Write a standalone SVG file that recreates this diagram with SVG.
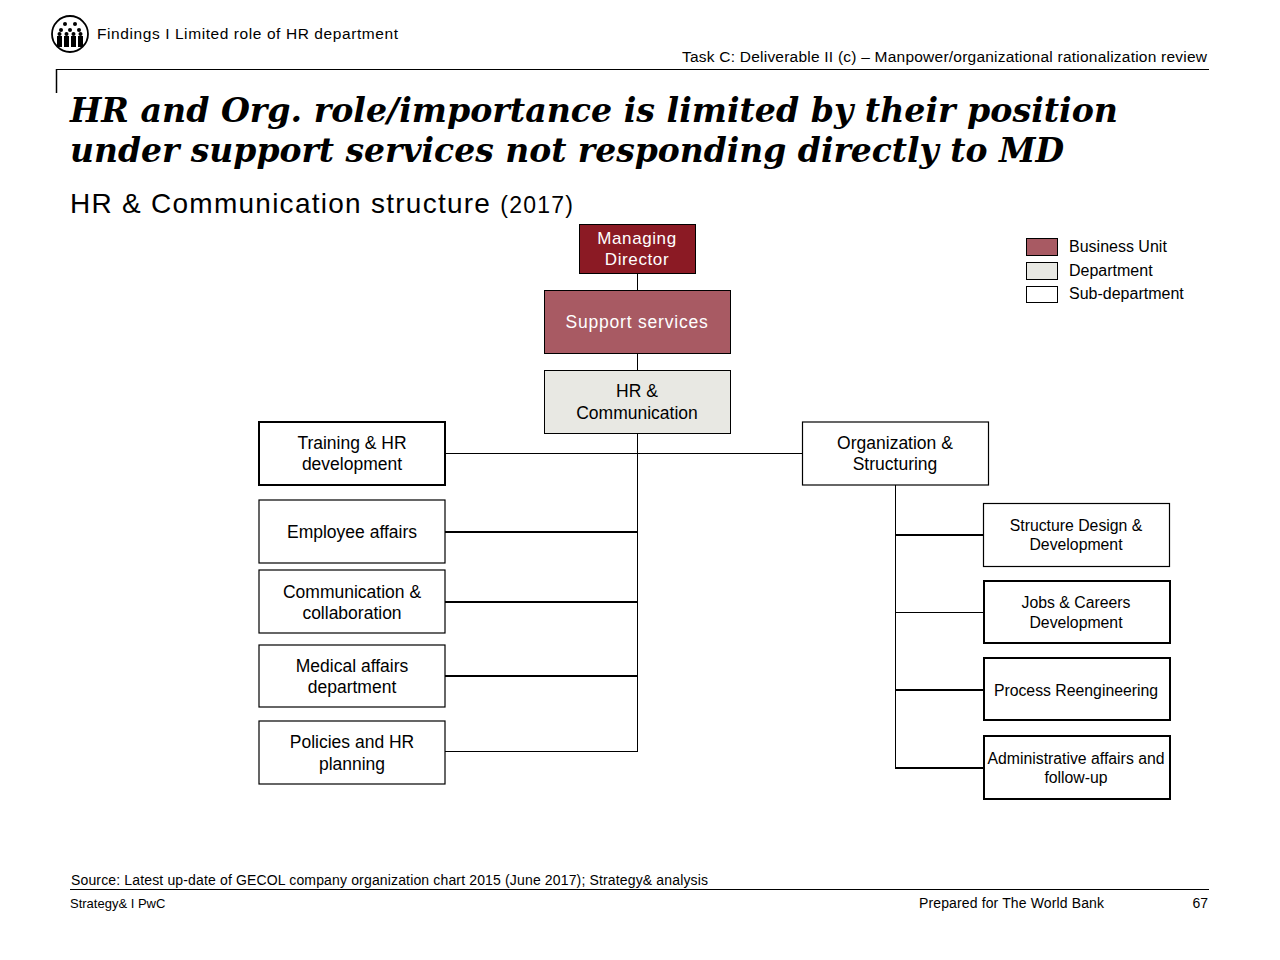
<svg xmlns="http://www.w3.org/2000/svg" width="1280" height="960" viewBox="0 0 1280 960">
<style>
text{font-family:"Liberation Sans",Arial,sans-serif;fill:#000}
.c{text-anchor:middle}
.w{fill:#fff}
.box{fill:#fff;stroke:#000;stroke-width:1.2}
.boxb{fill:#fff;stroke:#000;stroke-width:2}
.ln{stroke:#000;stroke-width:1;fill:none}
.lnb{stroke:#000;stroke-width:2;fill:none}
.n17{font-size:17.5px}
.n15{font-size:15.8px}
.n14{font-size:14px}
.n13{font-size:14px}
</style>
<rect width="1280" height="960" fill="#fff"/>
<g id="header">
<circle cx="70" cy="34" r="18" fill="#fff" stroke="#000" stroke-width="1.8"/>
<g fill="#000">
<circle cx="65" cy="24" r="2"/><circle cx="75" cy="24" r="2"/>
<circle cx="61" cy="30" r="2"/><circle cx="70" cy="30" r="2"/><circle cx="79" cy="30" r="2"/>
<rect x="57" y="36" width="5" height="11"/><rect x="64" y="36" width="5" height="11"/><rect x="71" y="36" width="5" height="11"/><rect x="78" y="36" width="5" height="11"/>
<circle cx="59.5" cy="34" r="2"/><circle cx="66.5" cy="34" r="2"/><circle cx="73.5" cy="34" r="2"/><circle cx="80.5" cy="34" r="2"/>
</g>
<text x="97" y="39" font-size="15.5" textLength="301" lengthAdjust="spacing">Findings I Limited role of HR department</text>
<text x="682" y="62" font-size="15.5" textLength="525" lengthAdjust="spacing">Task C: Deliverable II (c) – Manpower/organizational rationalization review</text>
<line x1="56" y1="69.5" x2="1209" y2="69.5" stroke="#000" stroke-width="1"/>
<line x1="56.5" y1="69" x2="56.5" y2="93" stroke="#000" stroke-width="1.5"/>
<text x="70" y="122" style="font-family:'DejaVu Serif','Liberation Serif',serif" font-size="34" font-weight="bold" font-style="italic" textLength="1048" lengthAdjust="spacingAndGlyphs">HR and Org. role/importance is limited by their position</text>
<text x="70" y="162" style="font-family:'DejaVu Serif','Liberation Serif',serif" font-size="34" font-weight="bold" font-style="italic" textLength="994" lengthAdjust="spacingAndGlyphs">under support services not responding directly to MD</text>
<text x="70" y="213" font-size="28" textLength="503" lengthAdjust="spacing">HR &amp; Communication structure <tspan font-size="23">(2017)</tspan></text>
</g>
<g id="legend">
<rect x="1026.5" y="238.5" width="31" height="17" fill="#A85A63" stroke="#000" stroke-width="1"/>
<rect x="1026.5" y="262.5" width="31" height="17" fill="#E8E8E3" stroke="#000" stroke-width="1"/>
<rect x="1026.5" y="286.5" width="31" height="16" fill="#fff" stroke="#000" stroke-width="1"/>
<text x="1069" y="252" font-size="16">Business Unit</text>
<text x="1069" y="276" font-size="16">Department</text>
<text x="1069" y="299" font-size="16">Sub-department</text>
</g>
<g id="connectors">
<line class="ln" x1="637.5" y1="273" x2="637.5" y2="290"/>
<line class="ln" x1="637.5" y1="353" x2="637.5" y2="370"/>
<line class="ln" x1="637.5" y1="433" x2="637.5" y2="752"/>
<line class="ln" x1="445" y1="453.5" x2="802" y2="453.5"/>
<line class="lnb" x1="445" y1="532" x2="637.5" y2="532"/>
<line class="lnb" x1="445" y1="602" x2="637.5" y2="602"/>
<line class="lnb" x1="445" y1="676" x2="637.5" y2="676"/>
<line class="ln" x1="445" y1="751.5" x2="638" y2="751.5"/>
<line class="ln" x1="895.5" y1="485" x2="895.5" y2="768"/>
<line class="lnb" x1="895" y1="535" x2="983" y2="535"/>
<line class="ln" x1="895" y1="612.5" x2="983" y2="612.5"/>
<line class="lnb" x1="895" y1="690" x2="983" y2="690"/>
<line class="lnb" x1="895" y1="768" x2="983" y2="768"/>
</g>
<g id="md">
<rect x="579.5" y="224.5" width="116" height="49" fill="#8B1A24" stroke="#000" stroke-width="1"/>
<text x="637" y="244" class="c w" font-size="17" style="letter-spacing:0.6px">Managing</text>
<text x="637" y="265" class="c w" font-size="17" style="letter-spacing:0.6px">Director</text>
</g>
<g id="support">
<rect x="544.5" y="290.5" width="186" height="63" fill="#A85A63" stroke="#000" stroke-width="1"/>
<text x="637" y="328" class="c w" font-size="17.5" style="letter-spacing:0.8px">Support services</text>
</g>
<g id="hrcomm">
<rect x="544.5" y="370.5" width="186" height="63" fill="#E8E8E3" stroke="#000" stroke-width="1"/>
<text x="637" y="397" class="c n17">HR &amp;</text>
<text x="637" y="419" class="c n17">Communication</text>
</g>
<g id="training">
<rect class="boxb" x="259" y="422" width="186" height="63"/>
<text x="352" y="449" class="c n17">Training &amp; HR</text>
<text x="352" y="470" class="c n17">development</text>
</g>
<g id="employee">
<rect class="box" x="259" y="500" width="186" height="63"/>
<text x="352" y="538" class="c n17">Employee affairs</text>
</g>
<g id="communication">
<rect class="box" x="259" y="570" width="186" height="63"/>
<text x="352" y="598" class="c n17">Communication &amp;</text>
<text x="352" y="619" class="c n17">collaboration</text>
</g>
<g id="medical">
<rect class="box" x="259" y="645" width="186" height="62"/>
<text x="352" y="672" class="c n17">Medical affairs</text>
<text x="352" y="693" class="c n17">department</text>
</g>
<g id="policies">
<rect class="box" x="259" y="721" width="186" height="63"/>
<text x="352" y="748" class="c n17">Policies and HR</text>
<text x="352" y="770" class="c n17">planning</text>
</g>
<g id="orgstruct">
<rect class="box" x="802.5" y="422" width="186" height="63"/>
<text x="895" y="449" class="c n17">Organization &amp;</text>
<text x="895" y="470" class="c n17">Structuring</text>
</g>
<g id="structure">
<rect class="box" x="983.5" y="503.5" width="186" height="63"/>
<text x="1076" y="531" class="c n15">Structure Design &amp;</text>
<text x="1076" y="550" class="c n15">Development</text>
</g>
<g id="jobs">
<rect class="boxb" x="984" y="581" width="186" height="62"/>
<text x="1076" y="608" class="c n15">Jobs &amp; Careers</text>
<text x="1076" y="628" class="c n15">Development</text>
</g>
<g id="process">
<rect class="boxb" x="984" y="658" width="186" height="62"/>
<text x="1076" y="696" class="c n15">Process Reengineering</text>
</g>
<g id="admin">
<rect class="boxb" x="984" y="736" width="186" height="63"/>
<text x="1076" y="764" class="c n15">Administrative affairs and</text>
<text x="1076" y="783" class="c n15">follow-up</text>
</g>
<g id="footer">
<text x="71" y="885" class="n13" textLength="637" lengthAdjust="spacing">Source: Latest up-date of GECOL company organization chart 2015 (June 2017); Strategy&amp; analysis</text>
<line x1="70" y1="889.5" x2="1209" y2="889.5" stroke="#000" stroke-width="1"/>
<text x="70" y="908" font-size="13">Strategy&amp; I PwC</text>
<text x="919" y="908" class="n13" textLength="185" lengthAdjust="spacing">Prepared for The World Bank</text>
<text x="1208" y="908" class="n13" text-anchor="end">67</text>
</g>
</svg>
